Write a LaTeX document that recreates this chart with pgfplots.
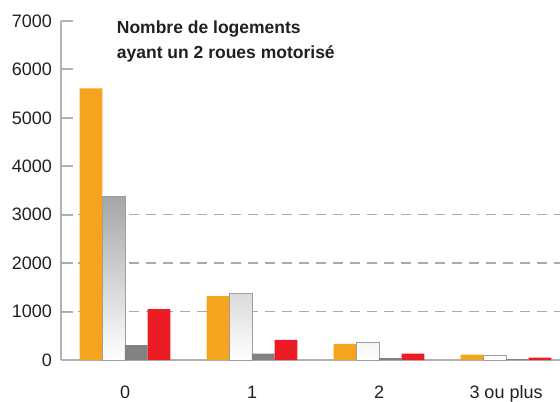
\documentclass[border=0pt]{standalone}
\usepackage{fontspec}
\setmainfont{Liberation Sans}
\usepackage{pgfplots}
\pgfplotsset{compat=1.18}
\definecolor{cOrange}{HTML}{F6A31D}
\definecolor{cGrayTop}{HTML}{A5A6A8}
\definecolor{cGrayBorder}{HTML}{9D9EA0}
\definecolor{cDark}{HTML}{818284}
\definecolor{cRed}{HTML}{EC1C24}
\definecolor{cAxis}{HTML}{B1B2B4}
\definecolor{cGrid}{HTML}{A9AAAC}
\definecolor{cText}{HTML}{231F20}
\begin{document}
\begin{tikzpicture}
\path[use as bounding box] (0,0) rectangle (560bp,402bp);
\begin{axis}[
  at={(61bp,42bp)}, anchor=south west,
  scale only axis, width=499bp, height=339bp,
  xmin=-0.504, xmax=3.425, ymin=0, ymax=7000,
  axis lines*=left,
  axis line style={draw=cAxis, line width=2bp},
  ytick={0,1000,...,7000},
  ytick pos=left, tick align=inside,
  major tick length=12bp,
  ytick style={draw=cAxis, line width=2bp},
  xtick={0,1,2,3},
  xticklabels={0,1,2,3 ou plus},
  xtick style={draw=none},
  /pgf/number format/assume math mode=true,
  /pgf/number format/1000 sep={},
  ticklabel style={font=\fontsize{18bp}{21.6bp}\selectfont, text=cText, inner sep=0pt},
  yticklabel style={anchor=east, xshift=-9bp},
  xticklabel style={anchor=base, yshift=-38bp},
  extra y ticks={1000,2000,3000},
  extra y tick labels={},
  extra y tick style={ymajorgrids=true, ytick style={draw=none},
    major grid style={draw=cGrid, line width=1.3bp, dash pattern=on 10bp off 7bp}},
  clip=false,
]
\addplot[ybar, bar width=22.7bp, bar shift=-34bp, fill=cOrange, draw=none]
  coordinates {(0,5610) (1,1320) (2,335) (3,110)};
\addplot[ybar, bar width=22.7bp, bar shift=-11.3bp, top color=cGrayTop, bottom color=white, draw=cGrayBorder, line width=1bp]
  coordinates {(0,3370) (1,1365) (2,365) (3,90)};
\addplot[ybar, bar width=22.7bp, bar shift=11.3bp, fill=cDark, draw=none]
  coordinates {(0,305) (1,130) (2,40) (3,20)};
\addplot[ybar, bar width=22.7bp, bar shift=34bp, fill=cRed, draw=none]
  coordinates {(0,1050) (1,413) (2,130) (3,50)};
\end{axis}
\node[anchor=base west, inner sep=0pt, text=cText, font=\bfseries\fontsize{17.5bp}{21bp}\selectfont] at (116.7bp,368bp) {Nombre de logements};
\node[anchor=base west, inner sep=0pt, text=cText, font=\bfseries\fontsize{17.5bp}{21bp}\selectfont] at (116.7bp,343bp) {ayant un 2 roues motorisé};
\end{tikzpicture}
\end{document}
